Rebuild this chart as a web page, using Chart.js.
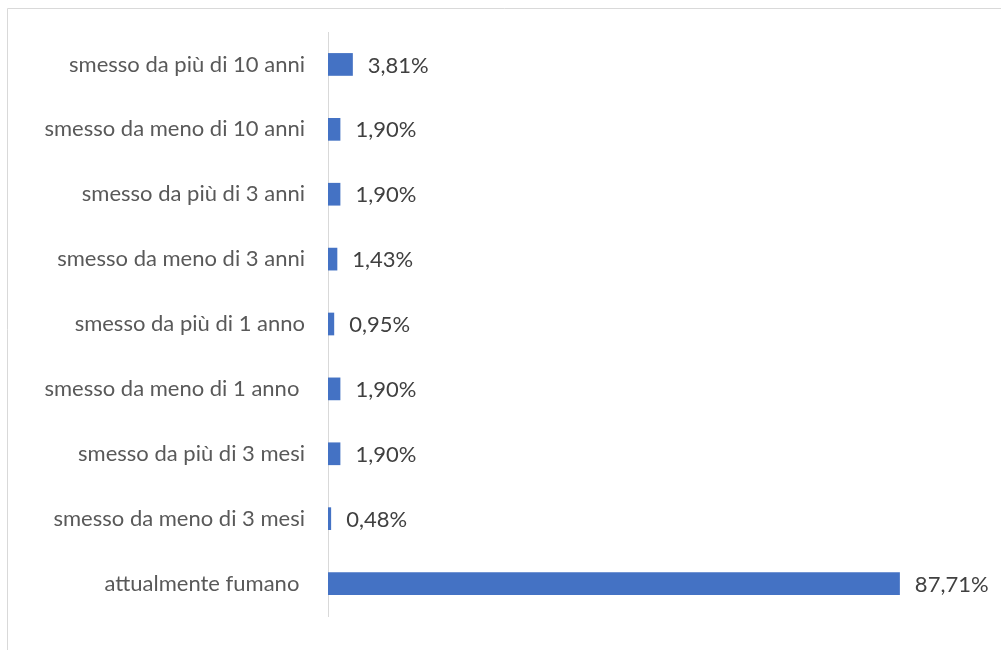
<!DOCTYPE html>
<html>
<head>
<meta charset="utf-8">
<script src="https://cdn.jsdelivr.net/npm/chart.js@4.4.0/dist/chart.umd.min.js"></script>
<style>
  html, body { margin: 0; padding: 0; background: #ffffff; }
  #wrap { position: relative; width: 1001px; height: 650px; }
</style>
</head>
<body>
<div id="wrap"><canvas id="fumoChart" width="1001" height="650"></canvas></div>
<script>
// categorie dall'alto verso il basso
const categorie = [
    'smesso da più di 10 anni',
    'smesso da meno di 10 anni',
    'smesso da più di 3 anni',
    'smesso da meno di 3 anni',
    'smesso da più di 1 anno',
    'smesso da meno di 1 anno ',
    'smesso da più di 3 mesi',
    'smesso da meno di 3 mesi',
    'attualmente fumano '
];
const percentuali = [3.81, 1.90, 1.90, 1.43, 0.95, 1.90, 1.90, 0.48, 87.71];

const FONT = "Lato, sans-serif";

// cornice grigia dell'area grafico
const cornice = {
    id: 'cornice',
    beforeDraw(chart) {
        const ctx = chart.ctx;
        ctx.save();
        ctx.strokeStyle = '#d9d9d9';
        ctx.lineWidth = 1;
        ctx.beginPath();
        ctx.moveTo(7.5, 650);
        ctx.lineTo(7.5, 8.5);
        ctx.lineTo(1001, 8.5);
        ctx.stroke();
        ctx.restore();
    }
};

// etichette con il valore accanto a ogni barra
const etichetteValori = {
    id: 'etichetteValori',
    afterDatasetsDraw(chart) {
        const ctx = chart.ctx;
        const meta = chart.getDatasetMeta(0);
        ctx.save();
        ctx.font = '22px ' + FONT;
        ctx.fillStyle = '#404040';
        ctx.textAlign = 'left';
        ctx.textBaseline = 'middle';
        meta.data.forEach(function (bar, i) {
            const testo = percentuali[i].toFixed(2).replace('.', ',') + '%';
            ctx.fillText(testo, bar.x + 15, bar.y + 1);
        });
        ctx.restore();
    }
};

const ctx = document.getElementById('fumoChart').getContext('2d');
new Chart(ctx, {
    type: 'bar',
    data: {
        labels: categorie,
        datasets: [{
            data: percentuali,
            backgroundColor: '#4472c4',
            borderWidth: 0,
            barPercentage: 0.7,
            categoryPercentage: 0.5
        }]
    },
    options: {
        indexAxis: 'y',
        responsive: false,
        animation: false,
        layout: { padding: { left: 0, right: 21, top: 32, bottom: 34 } },
        plugins: {
            legend: { display: false },
            tooltip: { enabled: false }
        },
        scales: {
            x: {
                display: false,
                min: 0,
                max: 100
            },
            y: {
                grid: { display: false },
                border: { display: true, color: '#d9d9d9', width: 1 },
                ticks: {
                    color: '#595959',
                    font: { family: FONT, size: 22 },
                    padding: 15,
                    autoSkip: false
                },
                afterFit(scale) { scale.width = 328; }
            }
        }
    },
    plugins: [cornice, etichetteValori]
});
</script>
</body>
</html>
